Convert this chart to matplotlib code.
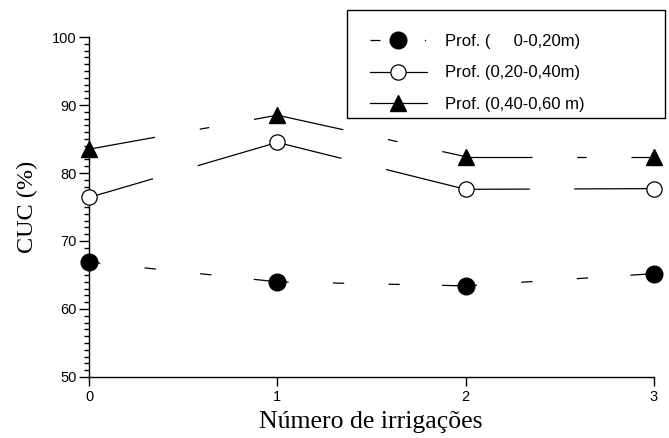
import matplotlib
matplotlib.use('Agg')
import matplotlib.pyplot as plt
from matplotlib.lines import Line2D
from matplotlib.patches import Rectangle
from matplotlib.ticker import MultipleLocator
import numpy as np

# ---- data ----
irrigations = [0, 1, 2, 3]
cuc_0_20 = [66.9, 64.0, 63.4, 65.2]
cuc_20_40 = [76.4, 84.5, 77.6, 77.7]
cuc_40_60 = [83.5, 88.5, 82.4, 82.4]
series_labels = ['Prof. (     0-0,20m)', 'Prof. (0,20-0,40m)', 'Prof. (0,40-0,60 m)']
xticks = [0, 1, 2, 3]
yticks = [50, 60, 70, 80, 90, 100]
xlabel = 'Número de irrigações'
ylabel = 'CUC (%)'

plt.rcParams['lines.scale_dashes'] = False
plt.rcParams['font.family'] = ['Liberation Sans', 'DejaVu Sans']

W, H, DPI = 669, 438, 100
fig = plt.figure(figsize=(W / DPI, H / DPI), dpi=DPI)
ax = fig.add_axes([89 / W, 61 / H, 565 / W, 340 / H])
ax.set_xlim(0, 3)
ax.set_ylim(50, 100)

# dash patterns expressed as fractions of each segment length
patterns = [
    [0.06, 0.235, 0.06, 0.235, 0.06, 0.225, 0.25, 0.01],
    [0.34, 0.237, 1.0, 0.01],
    [0.35, 0.238, 0.05, 0.238, 1.0, 0.01],
]
series = [cuc_0_20, cuc_20_40, cuc_40_60]
marker_styles = [
    dict(marker='o', ms=12, mfc='black', mec='black', mew=1.0),
    dict(marker='o', ms=11, mfc='white', mec='black', mew=0.9),
    dict(marker='^', ms=11.5, mfc='black', mec='black', mew=1.0),
]
LW = 0.9

for ys, pat, ms in zip(series, patterns, marker_styles):
    for i in range(len(irrigations) - 1):
        xs_seg = irrigations[i:i + 2]
        ys_seg = ys[i:i + 2]
        p = ax.transData.transform(np.column_stack([xs_seg, ys_seg]))
        L_pt = np.hypot(*(p[1] - p[0])) * 72 / DPI
        ax.plot(xs_seg, ys_seg, color='black', lw=LW,
                dashes=[f * L_pt for f in pat], dash_capstyle='butt',
                solid_capstyle='butt', zorder=2)
    ax.plot(irrigations, ys, linestyle='none', clip_on=False, zorder=3, **ms)

# axes styling
for s in ['top', 'right']:
    ax.spines[s].set_visible(False)
for s in ['left', 'bottom']:
    ax.spines[s].set_linewidth(1.0)
ax.set_xticks(xticks)
ax.set_yticks(yticks)
ax.yaxis.set_minor_locator(MultipleLocator(1))
ax.tick_params(axis='x', which='major', direction='out', length=6.5, width=1,
               labelsize=10.5, pad=3)
ax.tick_params(axis='y', which='major', direction='out', length=7, width=1,
               labelsize=10.5, pad=2)
ax.tick_params(axis='y', which='minor', direction='out', length=3.6, width=1)

fig.text(371 / W, 1 - 428 / H, xlabel, ha='center', va='baseline',
         fontsize=18.5, family='Liberation Serif')
fig.text(27 / W, 1 - 207 / H, ylabel, ha='center', va='center', rotation=90,
         fontsize=17.5, family='Liberation Serif')

# legend: frame drawn separately, entries placed inside
fig.patches.append(Rectangle((347 / W, 1 - 118 / H), (665 - 347) / W, (118 - 10) / H,
                             transform=fig.transFigure, fill=False,
                             edgecolor='black', lw=1.0))
handles = [
    Line2D([], [], color='black', lw=LW, dashes=[7.2, 32, 0.8, 10], **marker_styles[0]),
    Line2D([], [], color='black', lw=LW, **marker_styles[1]),
    Line2D([], [], color='black', lw=LW, **marker_styles[2]),
]
fig.legend(handles, series_labels, loc='upper left',
           bbox_to_anchor=(370 / W, 1 - 34 / H), bbox_transform=fig.transFigure,
           frameon=False, fontsize=12, borderpad=0, borderaxespad=0,
           handlelength=3.4, handletextpad=1.08, labelspacing=0.99, numpoints=1)

fig.savefig('out.png', dpi=DPI)
